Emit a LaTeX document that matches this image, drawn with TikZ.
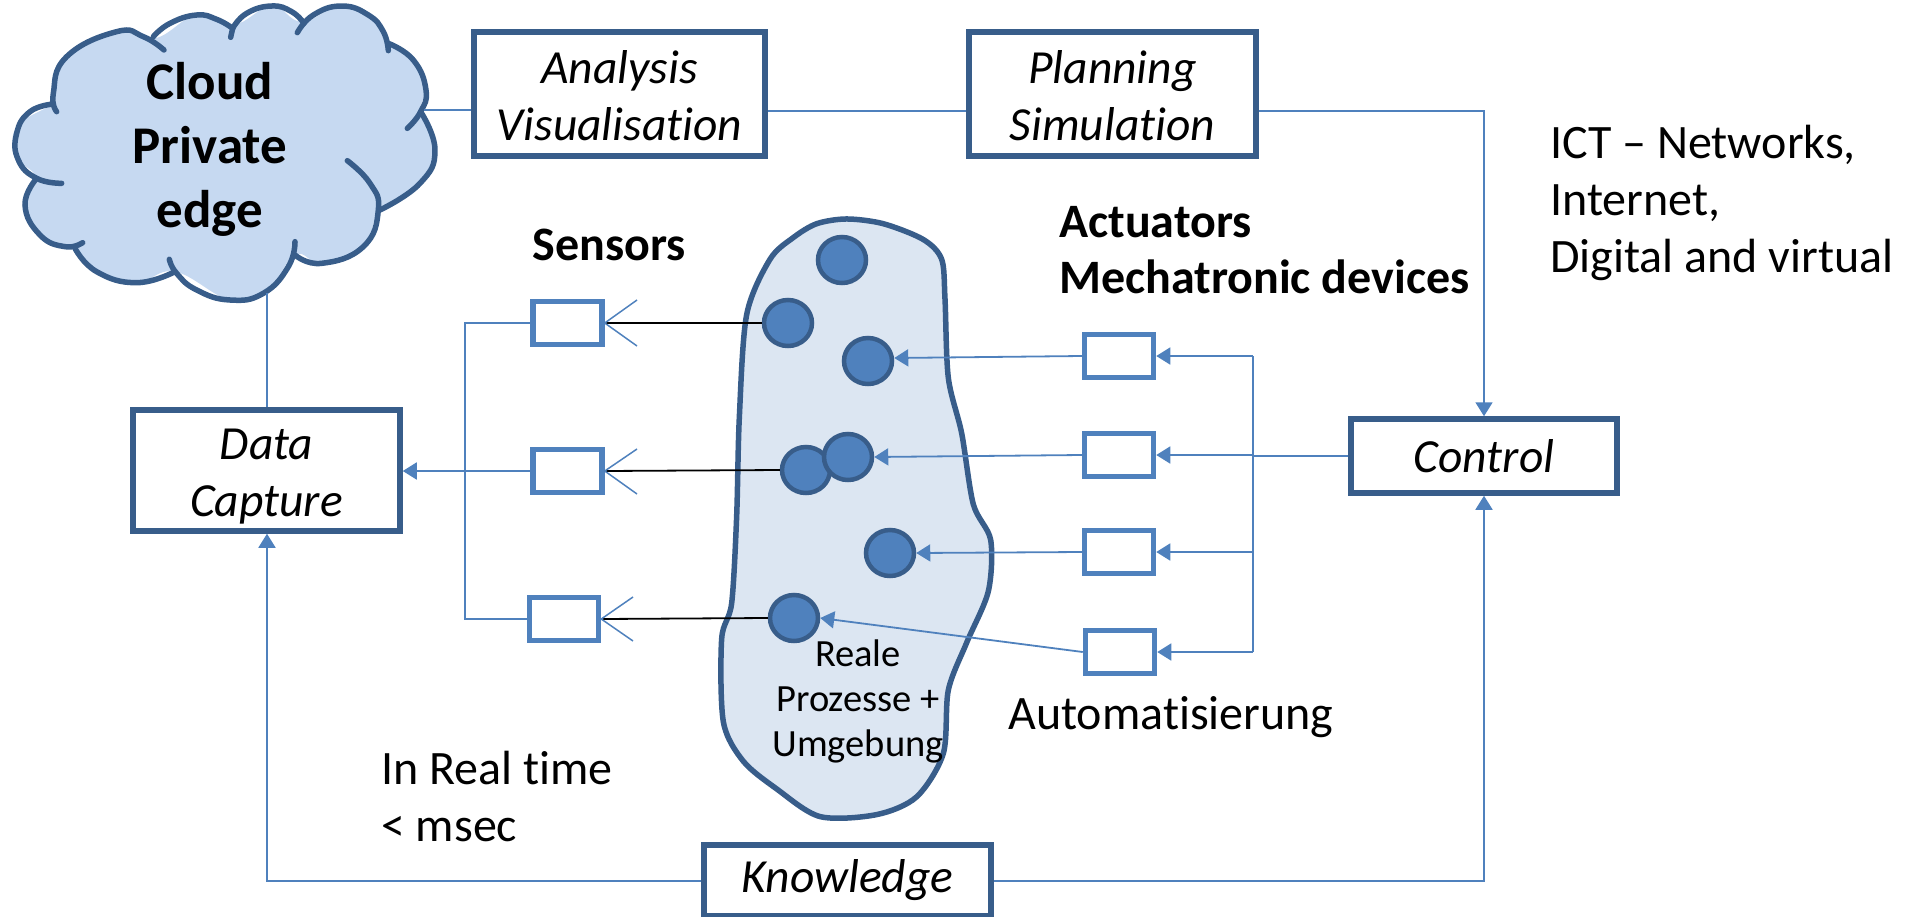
\documentclass[tikz,border=0pt]{standalone}
\usepackage{fontspec}
\setmainfont[Ligatures=NoCommon]{Carlito}
\usetikzlibrary{arrows.meta,shapes.geometric}
\definecolor{dk}{HTML}{385D8A}
\definecolor{bl}{HTML}{4F81BD}
\definecolor{cloudf}{HTML}{C6D9F1}
\definecolor{blobf}{HTML}{DCE6F2}
\tikzset{
 bigbox/.style={draw=dk,line width=5.5pt,fill=white,inner sep=0pt,align=center,font=\fontsize{47.5}{57}\selectfont\itshape},
 smallbox/.style={draw=bl,line width=5.5pt,fill=white,inner sep=0pt,minimum width=69pt,minimum height=43pt},
 dot/.style={draw=dk,line width=4.5pt,fill=bl,ellipse,inner sep=0pt,minimum width=48pt,minimum height=46pt},
 conn/.style={draw=bl,line width=1.8pt},
 arr/.style={conn,-{Triangle[length=14pt,width=17pt]}},
 blk/.style={draw=black,line width=1.8pt},
 ant/.style={draw=bl,line width=1.5pt},
 lab/.style={inner sep=0pt,align=left,anchor=west,font=\fontsize{48}{57}\selectfont},
 blab/.style={lab,font=\fontsize{48}{56}\selectfont\bfseries},
 lobe/.style={draw=dk,line width=5.5pt,line cap=round},
}
\begin{document}
\begin{tikzpicture}[x=1pt,y=-1pt]
\useasboundingbox (0,0) rectangle (1909,916);
% cloud
\begin{scope}[xscale=1/3,yscale=1/3]
\fill[cloudf] plot[smooth cycle,tension=0.7] coordinates {(160,280)(200,170)(350,95)(465,115)(590,45)(700,75)(815,18)(905,65)(1025,18)(1130,60)(1165,130)(1250,190)(1278,270)(1262,335)(1305,450)(1260,550)(1140,630)(1090,750)(965,790)(885,765)(800,875)(690,900)(525,815)(410,848)(290,815)(225,745)(130,715)(75,615)(110,535)(50,470)(50,380)(160,310)};
\draw[lobe] plot[smooth,tension=0.8] coordinates {(170,335)(160,280)(200,170)(350,95)(430,110)(492,150)};
\draw[lobe] plot[smooth,tension=0.8] coordinates {(460,110)(510,70)(590,45)(650,58)(698,85)};
\draw[lobe] (698,85) -- (692,112);
\draw[lobe] plot[smooth,tension=0.8] coordinates {(698,85)(740,40)(815,18)(875,35)(912,70)};
\draw[lobe] plot[smooth,tension=0.8] coordinates {(892,98)(940,45)(1025,18)(1105,45)(1150,95)(1165,152)};
\draw[lobe] plot[smooth,tension=0.8] coordinates {(1165,130)(1240,180)(1278,270)(1262,335)(1222,385)};
\draw[lobe] plot[smooth,tension=0.8] coordinates {(1262,335)(1305,450)(1260,550)(1140,630)};
\draw[lobe] plot[smooth,tension=0.8] coordinates {(1042,482)(1110,550)(1135,630)(1090,740)(965,790)(885,765)};
\draw[lobe] plot[smooth,tension=0.8] coordinates {(885,725)(865,800)(790,880)(690,900)(590,870)(530,820)(508,778)};
\draw[lobe] plot[smooth,tension=0.8] coordinates {(525,815)(410,848)(290,815)(225,745)};
\draw[lobe] plot[smooth,tension=0.8] coordinates {(248,728)(195,740)(120,705)(75,615)(110,535)};
\draw[lobe] plot[smooth,tension=0.8] coordinates {(185,550)(110,535)(55,480)(50,400)(90,335)(160,312)};
\end{scope}
\coordinate (cloudE) at (424,110);
\coordinate (cloudS) at (267,293);
\node[inner sep=0pt,align=center,font=\fontsize{53}{64}\selectfont\bfseries] (cloudtxt) at (210,149) {Cloud\\Private\\edge};
% blob
\begin{scope}[shift={(500,200)},xscale=1/3,yscale=1/2.53]
\draw[draw=dk,fill=blobf,line width=5.5pt] plot[smooth cycle,tension=0.5] coordinates {(1040,48)(1150,60)(1270,100)(1325,150)(1335,250)(1345,450)(1385,590)(1420,770)(1472,860)(1465,990)(1400,1120)(1345,1240)(1330,1400)(1250,1510)(1130,1555)(960,1560)(830,1490)(730,1420)(670,1320)(665,1110)(695,1020)(710,800)(718,550)(740,290)(810,150)(880,95)(950,60)};
\end{scope}
% circles
\node[dot] (c1) at (842,260) {};
\node[dot] (c2) at (788,323) {};
\node[dot] (c3) at (868,361) {};
\node[dot] (c4) at (806,470) {};
\node[dot] (c5) at (848,457) {};
\node[dot] (c6) at (890,553) {};
\node[dot] (c7) at (794,618) {};
% main boxes
\node[bigbox,minimum width=291pt,minimum height=124pt] (analysis) at (619.5,94) {\rule{0pt}{37pt}Analysis\\Visualisation};
\node[bigbox,minimum width=287pt,minimum height=124pt] (planning) at (1112.5,94) {\rule{0pt}{37pt}Planning\\Simulation};
\node[bigbox,minimum width=267pt,minimum height=121pt] (capture) at (266.5,470.5) {\rule{0pt}{42pt}Data\\Capture};
\node[bigbox,minimum width=266pt,minimum height=74pt] (control) at (1484,456) {Control};
\node[bigbox,minimum width=287pt,minimum height=71pt] (knowledge) at (847.5,880.5) {Knowledge};
% sensors
\node[smallbox] (s1) at (567.5,323) {};
\node[smallbox] (s2) at (567.5,471) {};
\node[smallbox] (s3) at (564,619) {};
% actuators
\node[smallbox] (a1) at (1119,356) {};
\node[smallbox] (a2) at (1119,455) {};
\node[smallbox] (a3) at (1119,552) {};
\node[smallbox] (a4) at (1120,652) {};
% helpers
\coordinate (sbus) at (465,471);
\coordinate (sb1) at (465,323);
\coordinate (sb3) at (465,619);
\coordinate (abus) at (1253,456);
\coordinate (ab1) at (1253,356);
\coordinate (ab2) at (1253,455);
\coordinate (ab3) at (1253,552);
\coordinate (ab4) at (1253,652);
\coordinate (ctrltop) at (1484,111);
\coordinate (kleft) at (267,881);
\coordinate (kright) at (1484,881);
\coordinate (s1u) at (637,300);
\coordinate (s1d) at (637,346);
\coordinate (s2u) at (637,449);
\coordinate (s2d) at (637,494);
\coordinate (s3u) at (633,597);
\coordinate (s3d) at (633,641);
% connectors
\draw[conn] (cloudE) -- (analysis.west |- cloudE);
\draw[conn] (analysis.east |- 0,111) -- (planning.west |- 0,111);
\draw[arr] (planning.east |- ctrltop) -- (ctrltop) -- (control.north);
\draw[conn] (cloudS) -- (capture.north -| cloudS);
\draw[arr] (knowledge.west |- kleft) -- (kleft) -- (capture.south -| kleft);
\draw[arr] (knowledge.east |- kright) -- (kright) -- (control.south);
\draw[arr] (sbus) -- (capture.east |- sbus);
\draw[conn] (s1.west) -- (sb1) -- (sb3) -- (s3.west);
\draw[conn] (s2.west) -- (sbus);
\draw[conn,line width=2.5pt] (control.west) -- (abus);
\draw[arr] (ab2) -- (a2.east);
\draw[arr] (ab1) -- (a1.east);
\draw[arr] (ab3) -- (a3.east);
\draw[arr] (ab4) -- (a4.east);
\draw[conn] (ab1) -- (ab4);
\draw[arr] (a1.west) -- (c3.east |- 0,358);
\draw[arr] (a2.west) -- (c5.east);
\draw[arr] (a3.west) -- (c6.east);
\draw[arr] (a4.west) -- (c7.east);
\draw[blk] (s1.east) -- (c2.west);
\draw[blk] (s2.east) -- (c4.west);
\draw[blk] (s3.east) -- (c7.west);
\draw[ant] (s1u) -- (s1.east) -- (s1d);
\draw[ant] (s2u) -- (s2.east) -- (s2d);
\draw[ant] (s3u) -- (s3.east) -- (s3d);
% labels
\node[blab,align=center,anchor=center] (sensorslab) at (609,245) {Sensors};
\node[blab] (actlab) at (1059,250) {Actuators\\Mechatronic devices};
\node[lab] (ictlab) at (1550,203) {ICT – Networks,\\Internet,\\Digital and virtual};
\node[lab] (autolab) at (1008,717) {Automatisierung};
\node[lab] (rtlab) at (381,797) {In Real time\\< msec};
\node[inner sep=0pt,align=center,font=\fontsize{38.5}{45}\selectfont] (proclab) at (858,701) {Reale\\Prozesse +\\Umgebung};
\end{tikzpicture}
\end{document}
